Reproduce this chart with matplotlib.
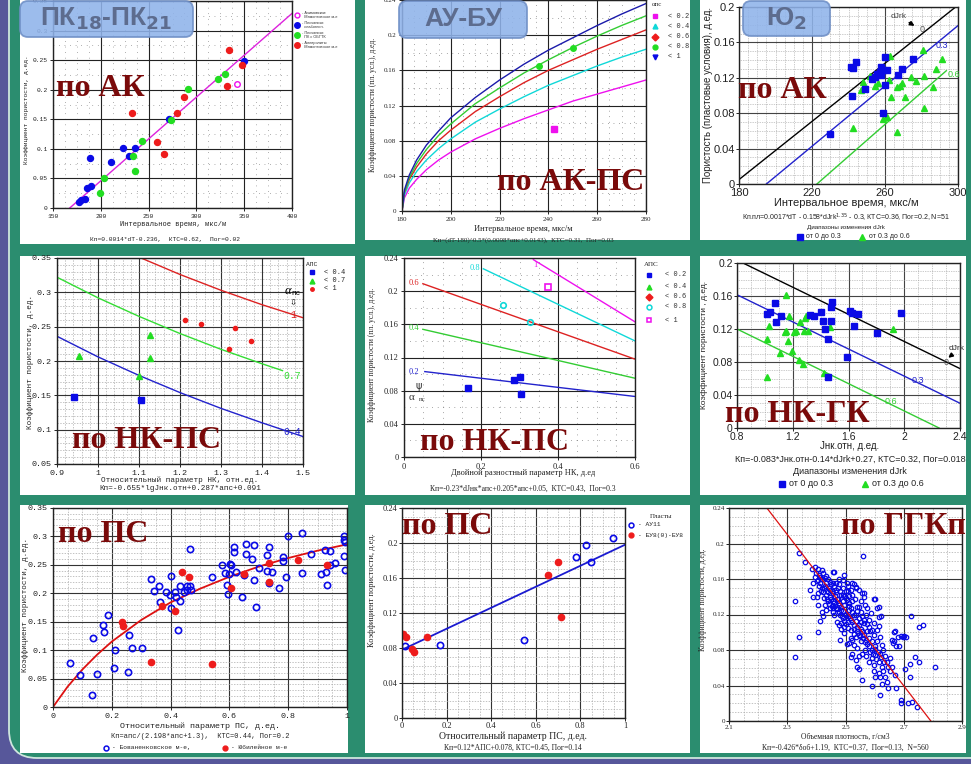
import numpy as np
import matplotlib.pyplot as plt
from matplotlib.patches import FancyBboxPatch, Rectangle

W, H = 971, 764
SERIF, MONO, SANS = 'Liberation Serif', 'Liberation Mono', 'Liberation Sans'
TEAL, PURPLE = '#2b8d6f', '#57579a'
TITLE_RED = '#7a0a0a'
BLUE, GREEN, RED, MAG, CYAN = '#0a0ae6', '#22dd22', '#ee1c1c', '#ee10ee', '#10d8d8'

# ---------- ПК18-ПК21, по АК ----------
a_blue_dt = [176.9, 179.7, 183.2, 185.7, 190.2, 189.2, 210.5, 223.4, 229.7, 235.7, 271.7, 350.3]
a_blue_kp = [0.010, 0.014, 0.016, 0.033, 0.038, 0.085, 0.077, 0.101, 0.088, 0.101, 0.151, 0.249]
a_green_dt = [199.0, 203.5, 233.2, 235.7, 243.4, 273.4, 291.6, 323.0, 330.0]
a_green_kp = [0.025, 0.051, 0.088, 0.062, 0.114, 0.149, 0.202, 0.218, 0.226]
a_red_dt = [232.9, 259.1, 266.1, 279.4, 287.4, 334.6, 332.5, 347.6]
a_red_kp = [0.161, 0.111, 0.092, 0.161, 0.187, 0.267, 0.206, 0.242]
a_mag_dt = [342.9]
a_mag_kp = [0.210]
a_fit_dt = [167.5, 400.0]
a_fit_kp = [0.0, 0.329]
a_legend = ['- Ачимовские\n  Мамонтовское м-е', '- Песчаники\n  слабоглин.', '- Песчаники\n  ПК с ОБГТК',
            '- Алевролиты\n  Мамонтовское м-е']

# ---------- АУ-БУ, по АК-ПС ----------
b_dt = [180, 181, 183, 186, 190, 195, 200, 210, 220, 230, 240, 250, 260, 270, 280]
b_curve_10 = [0, 0.024, 0.041, 0.058, 0.075, 0.091, 0.106, 0.129, 0.149, 0.167, 0.183, 0.197, 0.211, 0.224, 0.236]
b_curve_08 = [0, 0.022, 0.038, 0.054, 0.070, 0.086, 0.099, 0.122, 0.140, 0.157, 0.172, 0.186, 0.199, 0.211, 0.222]
b_curve_06 = [0, 0.021, 0.036, 0.050, 0.065, 0.080, 0.092, 0.113, 0.130, 0.146, 0.160, 0.172, 0.184, 0.195, 0.206]
b_curve_04 = [0, 0.018, 0.032, 0.045, 0.058, 0.071, 0.082, 0.101, 0.116, 0.130, 0.143, 0.154, 0.165, 0.175, 0.184]
b_curve_02 = [0, 0.015, 0.026, 0.036, 0.047, 0.058, 0.067, 0.082, 0.094, 0.105, 0.115, 0.125, 0.133, 0.141, 0.149]
b_green_dt = [236.1, 250.1]
b_green_kp = [0.165, 0.185]
b_mag_dt = [242.2]
b_mag_kp = [0.093]
b_legend = ['< 0.2', '< 0.4', '< 0.6', '< 0.8', '< 1']

# ---------- Ю2, по АК ----------
c_line0 = ([180, 298.7], [0.005, 0.200])
c_line03 = ([195, 300], [0.0, 0.179])
c_line06 = ([222.7, 293.6], [0.0, 0.128])
c_blue_dt = [241.2, 242.5, 243.9, 248.9, 242.1, 230.0, 253.1, 254.5, 255.8, 257.1, 258.0, 258.9, 259.8,
             257.6, 259.8, 261.1, 267.1, 269.3, 275.3, 258.9]
c_blue_kp = [0.1325, 0.1306, 0.1373, 0.1073, 0.0998, 0.0567, 0.1182, 0.1205, 0.1242, 0.1268, 0.1325, 0.1287,
             0.1437, 0.1231, 0.1118, 0.1287, 0.1231, 0.1295, 0.1418, 0.0799]
c_green_dt = [262.9, 248.1, 252.0, 254.3, 256.3, 262.2, 263.1, 266.6, 268.4, 269.1, 271.0, 274.1, 276.8,
              280.8, 281.2, 281.2, 286.3, 287.8, 291.1, 242.5, 258.9, 261.1, 266.8, 246.7]
c_green_kp = [0.1445, 0.1148, 0.1220, 0.1111, 0.1144, 0.1174, 0.0987, 0.1092, 0.1107, 0.1137, 0.0987, 0.1205,
              0.1167, 0.1512, 0.1220, 0.0856, 0.1092, 0.1298, 0.1418, 0.0630, 0.0732, 0.0754, 0.0585, 0.1062]

# ---------- по НК-ПС (АПС) ----------
d_j04 = [0.9, 1.0, 1.1, 1.2, 1.3, 1.4, 1.5]
d_kp04 = [0.236, 0.206, 0.179, 0.154, 0.131, 0.110, 0.090]
d_j07 = [0.9, 1.0, 1.1, 1.2, 1.3, 1.4, 1.45]
d_kp07 = [0.322, 0.292, 0.265, 0.240, 0.217, 0.196, 0.186]
d_j1 = [1.105, 1.2, 1.3, 1.4, 1.5]
d_kp1 = [0.350, 0.326, 0.303, 0.282, 0.263]
d_blue_j = [0.941, 1.104]
d_blue_kp = [0.148, 0.143]
d_green_j = [0.954, 1.099, 1.128, 1.128]
d_green_kp = [0.208, 0.178, 0.238, 0.204]
d_red_j = [1.213, 1.252, 1.335, 1.319, 1.372]
d_red_kp = [0.259, 0.254, 0.248, 0.218, 0.229]
d_legend = ['< 0.4', '< 0.7', '< 1']

# ---------- по НК-ПС (двойной разностный параметр) ----------
e_line02 = ([0.054, 0.6], [0.103, 0.073])
e_line04 = ([0.049, 0.6], [0.154, 0.095])
e_line06 = ([0.049, 0.6], [0.209, 0.118])
e_line08 = ([0.206, 0.6], [0.227, 0.140])
e_line10 = ([0.336, 0.6], [0.238, 0.163])
e_blue_x = [0.165, 0.285, 0.301, 0.304]
e_blue_kp = [0.083, 0.093, 0.096, 0.076]
e_cyan_x = [0.256, 0.327]
e_cyan_kp = [0.183, 0.163]
e_mag_x = [0.375]
e_mag_kp = [0.205]
e_legend = ['< 0.2', '< 0.4', '< 0.6', '< 0.8', '< 1']

# ---------- по НК-ГК ----------
f_line0 = ([0.855, 2.4], [0.199, 0.072])
f_line03 = ([0.8, 2.4], [0.1615, 0.030])
f_line06 = ([0.8, 2.25], [0.120, 0.0])
f_blue_j = [1.016, 1.040, 1.071, 1.078, 1.119, 1.322, 1.351, 1.406, 1.418, 1.430, 1.454, 1.478, 1.473,
            1.485, 1.586, 1.610, 1.622, 1.638, 1.670, 1.801, 1.974, 1.454]
f_blue_kp = [0.138, 0.141, 0.152, 0.129, 0.136, 0.137, 0.136, 0.141, 0.130, 0.120, 0.108, 0.147, 0.130,
             0.153, 0.086, 0.142, 0.139, 0.124, 0.138, 0.115, 0.140, 0.062]
f_green_j = [1.150, 1.030, 1.016, 1.016, 1.107, 1.174, 1.143, 1.155, 1.167, 1.207, 1.222, 1.198, 1.250,
             1.286, 1.298, 1.279, 1.310, 1.246, 1.274, 1.466, 1.423, 1.916]
f_green_kp = [0.161, 0.124, 0.108, 0.062, 0.091, 0.136, 0.116, 0.118, 0.106, 0.116, 0.117, 0.093, 0.129,
              0.133, 0.136, 0.117, 0.117, 0.082, 0.078, 0.122, 0.067, 0.120]

# ---------- по ПС (Бованенковское / Юбилейное) ----------
g_fit_a = [0, 0.05, 0.1, 0.15, 0.2, 0.3, 0.4, 0.5, 0.6, 0.7, 0.8, 0.9, 1.0]
g_fit_kp = [0, 0.036, 0.066, 0.092, 0.115, 0.153, 0.184, 0.208, 0.229, 0.247, 0.262, 0.275, 0.286]
g_bov = [(0.057, 0.078), (0.091, 0.056), (0.134, 0.021), (0.150, 0.058), (0.136, 0.121), (0.170, 0.145),
         (0.173, 0.132), (0.188, 0.161), (0.210, 0.100), (0.207, 0.068), (0.256, 0.061), (0.259, 0.126),
         (0.270, 0.103), (0.303, 0.103), (0.332, 0.226), (0.343, 0.204), (0.361, 0.213), (0.364, 0.185),
         (0.386, 0.203), (0.398, 0.197), (0.400, 0.175), (0.403, 0.231), (0.415, 0.203), (0.418, 0.194),
         (0.426, 0.135), (0.432, 0.186), (0.432, 0.212), (0.445, 0.203), (0.455, 0.212), (0.457, 0.206),
         (0.466, 0.278), (0.466, 0.212), (0.468, 0.206), (0.540, 0.228), (0.575, 0.250), (0.585, 0.235),
         (0.597, 0.234), (0.591, 0.214), (0.595, 0.198), (0.602, 0.251), (0.606, 0.250), (0.614, 0.282),
         (0.614, 0.272), (0.623, 0.237), (0.642, 0.194), (0.650, 0.232), (0.656, 0.286), (0.656, 0.269),
         (0.677, 0.260), (0.682, 0.285), (0.684, 0.224), (0.690, 0.176), (0.699, 0.245), (0.727, 0.268),
         (0.727, 0.239), (0.735, 0.281), (0.736, 0.218), (0.744, 0.237), (0.769, 0.209), (0.782, 0.257),
         (0.784, 0.264), (0.793, 0.229), (0.801, 0.300), (0.847, 0.306), (0.847, 0.235), (0.877, 0.269),
         (0.911, 0.234), (0.926, 0.276), (0.928, 0.237), (0.931, 0.215), (0.943, 0.250), (0.943, 0.275),
         (0.960, 0.253), (0.989, 0.300), (0.989, 0.294), (0.989, 0.265), (0.992, 0.241), (0.994, 0.290)]
g_jub = [(0.236, 0.150), (0.239, 0.143), (0.335, 0.079), (0.372, 0.178), (0.415, 0.168), (0.440, 0.238),
         (0.464, 0.229), (0.541, 0.075), (0.605, 0.209), (0.651, 0.234), (0.734, 0.253), (0.736, 0.219),
         (0.832, 0.259), (0.932, 0.249)]

# ---------- по ПС (пласты АУ11, БУ8) ----------
h_fit_a = [0.0, 1.0]
h_fit_kp = [0.078, 0.198]
h_au_a = [0.015, 0.172, 0.545, 0.781, 0.824, 0.846, 0.948]
h_au_kp = [0.082, 0.084, 0.089, 0.184, 0.198, 0.178, 0.206]
h_bu_a = [0.003, 0.019, 0.045, 0.052, 0.112, 0.654, 0.701, 0.713]
h_bu_kp = [0.096, 0.093, 0.079, 0.076, 0.093, 0.164, 0.178, 0.115]

# ---------- по ГГКп ----------
i_fit_rho = [2.23, 2.793]
i_fit_kp = [0.240, 0.0]
i_pts = [(2.341, 0.189), (2.362, 0.179), (2.560, 0.186), (2.384, 0.171), (2.328, 0.135), (2.339, 0.095),
         (2.326, 0.072), (2.461, 0.168), (2.807, 0.061), (2.726, 0.118), (2.754, 0.106), (2.767, 0.108),
         (2.701, 0.096), (2.692, 0.024), (2.714, 0.020), (2.728, 0.021), (2.746, 0.016), (2.689, 0.020),
         (2.619, 0.029), (2.645, 0.037), (2.675, 0.037), (2.703, 0.059), (2.722, 0.064), (2.739, 0.072),
         (2.754, 0.066), (2.723, 0.050), (2.591, 0.040), (2.555, 0.046), (2.541, 0.061), (2.546, 0.059),
         (2.412, 0.113), (2.406, 0.100), (2.481, 0.091), (2.496, 0.099), (2.504, 0.087), (2.665, 0.100),
         (2.668, 0.090), (2.683, 0.084), (2.664, 0.088), (2.692, 0.096), (2.708, 0.095), (2.623, 0.118),
         (2.614, 0.128), (2.603, 0.138), (2.562, 0.144), (2.536, 0.151), (2.522, 0.155),
         (2.395, 0.174), (2.406, 0.171), (2.418, 0.170), (2.423, 0.167), (2.399, 0.167), (2.410, 0.165),
         (2.390, 0.156), (2.406, 0.159), (2.414, 0.156), (2.429, 0.161), (2.440, 0.160), (2.446, 0.157),
         (2.457, 0.168), (2.479, 0.160), (2.434, 0.156), (2.451, 0.154), (2.462, 0.152), (2.429, 0.152),
         (2.418, 0.150), (2.406, 0.144), (2.401, 0.140), (2.423, 0.145), (2.434, 0.142), (2.446, 0.148),
         (2.457, 0.144), (2.468, 0.148), (2.479, 0.154), (2.490, 0.150), (2.504, 0.156), (2.507, 0.146),
         (2.485, 0.142), (2.474, 0.137), (2.462, 0.133), (2.451, 0.137), (2.440, 0.135), (2.429, 0.131),
         (2.446, 0.127), (2.457, 0.123), (2.468, 0.127), (2.479, 0.131), (2.490, 0.135), (2.502, 0.139),
         (2.513, 0.133), (2.524, 0.142), (2.535, 0.150), (2.533, 0.137), (2.541, 0.129), (2.558, 0.144),
         (2.567, 0.131), (2.574, 0.127), (2.597, 0.137), (2.608, 0.127), (2.614, 0.117), (2.586, 0.122),
         (2.569, 0.120), (2.552, 0.123), (2.546, 0.116), (2.535, 0.120), (2.524, 0.123), (2.513, 0.125),
         (2.502, 0.120), (2.490, 0.116), (2.479, 0.123), (2.485, 0.110), (2.496, 0.106), (2.507, 0.112),
         (2.518, 0.114), (2.530, 0.108), (2.541, 0.106), (2.552, 0.112), (2.563, 0.110), (2.580, 0.114),
         (2.591, 0.103), (2.574, 0.101), (2.558, 0.101), (2.546, 0.097), (2.535, 0.095), (2.524, 0.091),
         (2.513, 0.088), (2.530, 0.086), (2.541, 0.082), (2.552, 0.090), (2.569, 0.091), (2.580, 0.093),
         (2.597, 0.097), (2.608, 0.090), (2.602, 0.084), (2.591, 0.080), (2.580, 0.084), (2.567, 0.080),
         (2.558, 0.076), (2.546, 0.073), (2.524, 0.076), (2.518, 0.072), (2.535, 0.069), (2.569, 0.073),
         (2.591, 0.071), (2.602, 0.074), (2.619, 0.076), (2.630, 0.080), (2.636, 0.073), (2.614, 0.067),
         (2.597, 0.063), (2.580, 0.067), (2.625, 0.061), (2.642, 0.067), (2.653, 0.071), (2.647, 0.061),
         (2.630, 0.056), (2.614, 0.054), (2.602, 0.050), (2.597, 0.056), (2.619, 0.050), (2.636, 0.050),
         (2.653, 0.056), (2.658, 0.061), (2.670, 0.052), (2.642, 0.044), (2.625, 0.042), (2.675, 0.084),
         (2.658, 0.091), (2.681, 0.095), (2.698, 0.095), (2.670, 0.101), (2.625, 0.086), (2.619, 0.095),
         (2.608, 0.103), (2.597, 0.110), (2.614, 0.107), (2.580, 0.106), (2.457, 0.156), (2.468, 0.156),
         (2.490, 0.159), (2.496, 0.164), (2.507, 0.152), (2.518, 0.148), (2.530, 0.154), (2.546, 0.148),
         (2.563, 0.140), (2.552, 0.135), (2.496, 0.131), (2.485, 0.125), (2.434, 0.125), (2.418, 0.123),
         (2.406, 0.131), (2.390, 0.140), (2.378, 0.148), (2.423, 0.118),
         (2.420, 0.160), (2.432, 0.163), (2.444, 0.150), (2.452, 0.146), (2.463, 0.141), (2.470, 0.138),
         (2.476, 0.133), (2.483, 0.128), (2.492, 0.124), (2.500, 0.121), (2.508, 0.118), (2.516, 0.116),
         (2.522, 0.112), (2.530, 0.104), (2.538, 0.101), (2.544, 0.099), (2.550, 0.096), (2.560, 0.094),
         (2.566, 0.089), (2.575, 0.087), (2.584, 0.078), (2.594, 0.076), (2.604, 0.070), (2.440, 0.145),
         (2.448, 0.140), (2.456, 0.135), (2.465, 0.130), (2.472, 0.126), (2.480, 0.120), (2.488, 0.118),
         (2.494, 0.113), (2.503, 0.109), (2.510, 0.105), (2.518, 0.103), (2.425, 0.150), (2.436, 0.147),
         (2.444, 0.132), (2.452, 0.130), (2.461, 0.120), (2.470, 0.112), (2.478, 0.108), (2.486, 0.104),
         (2.495, 0.141), (2.505, 0.136), (2.512, 0.130), (2.520, 0.127), (2.528, 0.120), (2.536, 0.113),
         (2.545, 0.108), (2.553, 0.104), (2.415, 0.146), (2.408, 0.152), (2.402, 0.158), (2.395, 0.162),
         (2.412, 0.162), (2.425, 0.139), (2.438, 0.137), (2.458, 0.127), (2.466, 0.145), (2.474, 0.150),
         (2.482, 0.146), (2.492, 0.142), (2.500, 0.147), (2.512, 0.141), (2.523, 0.135), (2.540, 0.124),
         (2.548, 0.128), (2.556, 0.118), (2.565, 0.114), (2.575, 0.109), (2.585, 0.101), (2.592, 0.090),
         (2.600, 0.081), (2.610, 0.078), (2.622, 0.072), (2.632, 0.066), (2.565, 0.097), (2.528, 0.098),
         (2.520, 0.094)]


def rect(l, t, r, b):
    return [l / W, 1 - b / H, (r - l) / W, (b - t) / H]


def ticks(start, stop, step):
    return np.round(np.arange(start, stop + step / 2, step), 4)


def setup(ax, xlim, ylim, xmaj, ymaj, xmin, ymin, fam, fs,
          minor_ls=(0, (2, 2)), minor_c='#aaaaaa', major_c='#333333', pad=2):
    ax.set_xlim(*xlim)
    ax.set_ylim(*ylim)
    ax.set_xticks(xmaj)
    ax.set_yticks(ymaj)
    ax.set_xticks(xmin, minor=True)
    ax.set_yticks(ymin, minor=True)
    ax.set_xticklabels(['%g' % v for v in xmaj], family=fam, fontsize=fs, color='#222222')
    ax.set_yticklabels(['%g' % v for v in ymaj], family=fam, fontsize=fs, color='#222222')
    ax.grid(True, which='major', color=major_c, lw=0.8)
    ax.grid(True, which='minor', color=minor_c, lw=0.5, ls=minor_ls)
    ax.tick_params(which='minor', length=0)
    ax.tick_params(which='major', length=2, width=0.6, pad=pad)
    ax.set_axisbelow(True)
    for s in ax.spines.values():
        s.set_linewidth(1.0)
        s.set_color('#222222')


fig = plt.figure(figsize=(W / 100, H / 100), dpi=100)
fig.patch.set_facecolor(PURPLE)

# background frame and white cards
bg = fig.add_axes([0, 0, 1, 1], zorder=0)
bg.set_xlim(0, W)
bg.set_ylim(H, 0)
bg.axis('off')
bg.add_patch(FancyBboxPatch((9, -60), W + 60, 818, boxstyle='round,pad=0,rounding_size=28',
                            fc=TEAL, ec='#cfe6de', lw=1.3))
for l, t, r, b in [(20, 0, 355, 244), (365, 0, 690, 240), (700, 0, 966, 240),
                   (20, 256, 355, 495), (365, 256, 690, 495), (700, 256, 966, 495),
                   (20, 505, 348, 753), (365, 505, 690, 753), (700, 505, 966, 753)]:
    bg.add_patch(Rectangle((l, t), r - l, b - t, fc='white', ec='none'))

# ---- panel A ----
ax = fig.add_axes(rect(53, 1, 292, 208), zorder=1)
setup(ax, (150, 400), (0, 0.35), ticks(150, 400, 50), ticks(0, 0.35, 0.05),
      ticks(150, 400, 12.5), ticks(0, 0.35, 0.025), MONO, 4.5, minor_ls=(0, (1, 7)), minor_c='#666666',
      major_c='#222222')
ax.plot(a_fit_dt, a_fit_kp, color='#dd22dd', lw=1.0)
ax.plot(a_blue_dt, a_blue_kp, 'o', color=BLUE, ms=4.3)
ax.plot(a_green_dt, a_green_kp, 'o', color=GREEN, ms=4.3)
ax.plot(a_red_dt, a_red_kp, 'o', color=RED, ms=4.3)
ax.plot(a_mag_dt, a_mag_kp, 'o', mfc='none', mec=MAG, ms=4, mew=1)

# ---- panel B ----
ax = fig.add_axes(rect(402, 0, 646, 211), zorder=1)
setup(ax, (180, 280), (0, 0.24), ticks(180, 280, 20), ticks(0, 0.24, 0.04),
      ticks(180, 280, 5), ticks(0, 0.24, 0.02), SERIF, 5, minor_ls=(0, (1, 7)), minor_c='#555555',
      major_c='#222222')
for vals, col in [(b_curve_02, MAG), (b_curve_04, CYAN), (b_curve_06, '#dd2222'),
                  (b_curve_08, '#33cc33'), (b_curve_10, '#1a1aaa')]:
    ax.plot(b_dt, vals, color=col, lw=1.0)
ax.plot(b_green_dt, b_green_kp, 'o', color=GREEN, ms=4)
ax.plot(b_mag_dt, b_mag_kp, 's', color=MAG, ms=4)

# ---- panel C ----
ax = fig.add_axes(rect(739, 7, 958, 184), zorder=1)
setup(ax, (180, 300), (0, 0.2), ticks(180, 300, 40), ticks(0, 0.2, 0.04),
      ticks(180, 300, 5), ticks(0, 0.2, 0.01), SANS, 8, minor_ls=(0, (1, 1.5)), minor_c='#999999',
      major_c='#444444', pad=1)
ax.plot(*c_line0, color='black', lw=1.0)
ax.plot(*c_line03, color='#2222cc', lw=1.0)
ax.plot(*c_line06, color='#33cc33', lw=1.0)
ax.plot(c_green_dt, c_green_kp, '^', color=GREEN, ms=4.5)
ax.plot(c_blue_dt, c_blue_kp, 's', color=BLUE, ms=4.5)
ax.text(279, 0.172, '0', fontsize=6.5, family=SANS, color='#555555')
ax.text(287.5, 0.154, '0.3', fontsize=6.5, family=SANS, color='#2222cc')
ax.text(294.5, 0.121, '0.6', fontsize=6.5, family=SANS, color='#33cc33')
ax.text(263, 0.188, 'dJrk', fontsize=6, family=SANS, color='#444444')
ax.annotate('', xy=(277.5, 0.177), xytext=(272, 0.184),
            arrowprops=dict(arrowstyle='-|>', color='black', lw=1.2, mutation_scale=6))

# ---- panel D ----
ax = fig.add_axes(rect(57, 258, 303, 464), zorder=1)
setup(ax, (0.9, 1.5), (0.05, 0.35), ticks(0.9, 1.5, 0.1), ticks(0.05, 0.35, 0.05),
      ticks(0.9, 1.5, 0.02), ticks(0.05, 0.35, 0.01), MONO, 6)
ax.plot(d_j04, d_kp04, color='#2222cc', lw=1.0)
ax.plot(d_j07, d_kp07, color='#33dd33', lw=1.0)
ax.plot(d_j1, d_kp1, color='#dd2222', lw=1.0)
ax.plot(d_blue_j, d_blue_kp, 's', color=BLUE, ms=4)
ax.plot(d_green_j, d_green_kp, '^', color=GREEN, ms=4)
ax.plot(d_red_j, d_red_kp, 'o', color=RED, ms=3)
ax.text(1.468, 0.267, '1', fontsize=7, family=MONO, color='#dd2222', va='center')
ax.text(1.452, 0.178, '0.7', fontsize=7, family=MONO, color='#33dd33', va='center')
ax.text(1.452, 0.096, '0.4', fontsize=7, family=MONO, color='#2222cc', va='center')
ax.text(1.455, 0.302, 'α', fontsize=9, family=SERIF, style='italic', va='center')
ax.text(1.472, 0.298, 'пс', fontsize=5.5, family=MONO, va='center')
ax.text(1.466, 0.284, '⇩', fontsize=6, family='DejaVu Sans', va='center')

# ---- panel E ----
ax = fig.add_axes(rect(404, 258, 635, 457), zorder=1)
setup(ax, (0, 0.6), (0, 0.24), ticks(0, 0.6, 0.2), ticks(0, 0.24, 0.04),
      ticks(0, 0.6, 0.05), ticks(0, 0.24, 0.02), SERIF, 6, minor_ls=(0, (1, 7)), minor_c='#555555',
      major_c='#222222')
for (xs, ys), col in [(e_line02, '#2222cc'), (e_line04, '#33cc33'), (e_line06, '#dd2222'),
                      (e_line08, CYAN), (e_line10, MAG)]:
    ax.plot(xs, ys, color=col, lw=1.0)
ax.plot(e_blue_x, e_blue_kp, 's', color=BLUE, ms=4.5)
ax.plot(e_cyan_x, e_cyan_kp, 'o', mfc='none', mec=CYAN, ms=4, mew=1.2)
ax.plot(e_mag_x, e_mag_kp, 's', mfc='none', mec=MAG, ms=4.5, mew=1.2)
for x, y, s, col in [(0.012, 0.103, '0.2', '#2222cc'), (0.012, 0.155, '0.4', '#33cc33'),
                     (0.012, 0.210, '0.6', '#dd2222'), (0.17, 0.228, '0.8', CYAN),
                     (0.335, 0.231, '1', MAG)]:
    ax.text(x, y, s, fontsize=6, family=SERIF, color=col, va='center')
ax.text(0.03, 0.086, 'ψ', fontsize=7, family='DejaVu Sans', color='#333333', va='center')
ax.text(0.012, 0.072, 'α', fontsize=8, family=SERIF, color='#333333', va='center')
ax.text(0.038, 0.069, 'пс', fontsize=5, family=SERIF, color='#333333', va='center')

# ---- panel F ----
ax = fig.add_axes(rect(737, 263, 960, 428), zorder=1)
setup(ax, (0.8, 2.4), (0, 0.2), ticks(0.8, 2.4, 0.4), ticks(0, 0.2, 0.04),
      ticks(0.8, 2.4, 0.1), ticks(0, 0.2, 0.01), SANS, 7.5, minor_ls=(0, (1, 1.5)), minor_c='#999999',
      major_c='#444444', pad=1)
ax.plot(*f_line0, color='black', lw=1.0)
ax.plot(*f_line03, color='#2222cc', lw=1.0)
ax.plot(*f_line06, color='#33cc33', lw=1.0)
ax.plot(f_green_j, f_green_kp, '^', color=GREEN, ms=4)
ax.plot(f_blue_j, f_blue_kp, 's', color=BLUE, ms=4.5)
ax.text(2.28, 0.076, '0', fontsize=6.5, family=SANS, color='#555555')
ax.text(2.05, 0.054, '0.3', fontsize=6.5, family=SANS, color='#2222cc')
ax.text(1.86, 0.029, '0.6', fontsize=6.5, family=SANS, color='#33cc33')
ax.text(2.32, 0.094, 'dJrk', fontsize=6, family=SANS, color='#333333')
ax.annotate('', xy=(2.3, 0.083), xytext=(2.36, 0.091),
            arrowprops=dict(arrowstyle='-|>', color='black', lw=1.2, mutation_scale=6))

# ---- panel G ----
ax = fig.add_axes(rect(53, 508, 347, 707), zorder=1)
setup(ax, (0, 1), (0, 0.35), ticks(0, 1, 0.2), ticks(0, 0.35, 0.05),
      ticks(0, 1, 0.05), ticks(0, 0.35, 0.01), MONO, 6)
g_bov_a, g_bov_kp = np.array(g_bov).T
g_jub_a, g_jub_kp = np.array(g_jub).T
ax.plot(g_fit_a, g_fit_kp, color='#dd1111', lw=1.3)
ax.plot(g_bov_a, g_bov_kp, 'o', mfc='none', mec=BLUE, ms=4.5, mew=1.2)
ax.plot(g_jub_a, g_jub_kp, 'o', color=RED, ms=4.5)

# ---- panel H ----
ax = fig.add_axes(rect(402, 508, 625, 718), zorder=1)
setup(ax, (0, 1), (0, 0.24), ticks(0, 1, 0.2), ticks(0, 0.24, 0.04),
      ticks(0, 1, 0.05), ticks(0, 0.24, 0.01), SERIF, 6, pad=1)
ax.plot(h_fit_a, h_fit_kp, color='#1a1ad0', lw=1.3)
ax.plot(h_au_a, h_au_kp, 'o', mfc='none', mec=BLUE, ms=4.5, mew=1.2)
ax.plot(h_bu_a, h_bu_kp, 'o', color=RED, ms=4.5)

# ---- panel I ----
ax = fig.add_axes(rect(729, 508, 962, 721), zorder=1)
setup(ax, (2.1, 2.9), (0, 0.24), ticks(2.1, 2.9, 0.2), ticks(0, 0.24, 0.04),
      ticks(2.1, 2.9, 0.05), ticks(0, 0.24, 0.01), SERIF, 5, pad=1)
i_rho, i_kp = np.array(i_pts).T
ax.plot(i_rho, i_kp, 'o', mfc='none', mec=BLUE, ms=3.2, mew=0.9)
ax.plot(i_fit_rho, i_fit_kp, color='#dd1111', lw=0.9)

# ---------- overlay: titles, badges, captions, legends ----------
top = fig.add_axes([0, 0, 1, 1], zorder=5)
top.set_xlim(0, W)
top.set_ylim(H, 0)
top.axis('off')
top.patch.set_alpha(0)

for x, y, s in [(100, 88, 'по АК'), (571, 182, 'по АК-ПС'), (782, 90, 'по АК'),
                (146, 440, 'по НК-ПС'), (494, 442, 'по НК-ПС'), (797, 414, 'по НК-ГК'),
                (103, 534, 'по ПС'), (447, 527, 'по ПС'), (903, 527, 'по ГГКп')]:
    top.text(x, y, s, ha='center', va='center', fontsize=23, fontweight='bold',
             family=SERIF, color=TITLE_RED)

for (x0, w, h), label in [((20, 173, 36), 'ПК$_{\\mathbf{18}}$-ПК$_{\\mathbf{21}}$'),
                          ((399, 128, 37), 'АУ-БУ'), ((743, 87, 35), 'Ю$_{\\mathbf{2}}$')]:
    top.add_patch(FancyBboxPatch((x0, 1), w, h, boxstyle='round,pad=0,rounding_size=8',
                                 fc='#8fb3ea', ec='#6f8fc6', lw=1.3, alpha=0.88))
    top.text(x0 + w / 2, 1 + h / 2, label, ha='center', va='center', fontsize=19,
             fontweight='bold', family=SANS, color='#5d6c8e')

cap = dict(ha='center', va='center', color='#222222')
# panel A captions and legend
top.text(27, 110, 'Коэффициент пористости, д.ед.', rotation=90, fontsize=4.5, family=MONO, **cap)
top.text(173, 224, 'Интервальное время, мкс/м', fontsize=5, family=MONO, **cap)
top.text(165, 240, 'Кп=0.0014*dT-0.236,  КТС=0.62,  Пог=0.02', fontsize=4.5, family=MONO, **cap)
for y, col, s in zip([15, 25, 35, 45], [MAG, BLUE, GREEN, RED], a_legend):
    if col == MAG:
        top.plot(297, y, 'o', mfc='none', mec=col, ms=3.5, mew=1)
    else:
        top.plot(297, y, 'o', color=col, ms=4)
    top.text(302, y, s, fontsize=2.8, family=SANS, va='center', color='#333333', linespacing=1.0)

# panel B captions and legend
top.text(373, 105, 'Коэффициент пористости (пл. усл.), д.ед.', rotation=90, fontsize=5.5, family=SERIF, **cap)
top.text(523, 229, 'Интервальное время, мкс/м', fontsize=6, family=SERIF, **cap)
top.text(523, 240, 'Кп=(dT-180)^0.5*(0.0098*αпс+0.0143),  КТС=0.31,  Пог=0.03', fontsize=5,
         family=SERIF, **cap)
top.text(652, 4, 'αпс', fontsize=5, family=SERIF, va='center', color='#333333')
for y, (m, col), s in zip([16, 26, 36.5, 46.5, 57], [('s', MAG), ('^', CYAN), ('D', RED), ('o', GREEN),
                                                     ('v', BLUE)], b_legend):
    top.plot(655, y, m, color=col, ms=3.5)
    top.text(668, y, s, fontsize=5, family=MONO, va='center', color='#333333')

# panel C captions and legend
top.text(708, 95, 'Пористость (пластовые условия), д.ед.', rotation=90, fontsize=7, family=SANS, **cap)
top.text(846, 203, 'Интервальное время, мкс/м', fontsize=8, family=SANS, **cap)
top.text(846, 218, 'Кп.пл=0.0017*dT - 0.158*dJrk$^{1.35}$ - 0.3, КТС=0.36, Пог=0.2, N=51', fontsize=5,
         family=SANS, **cap)
top.text(846, 228, 'Диапазоны изменения dJrk', fontsize=4.5, family=SANS, **cap)
top.plot(800, 236.5, 's', color=BLUE, ms=4)
top.text(806, 236.5, 'от 0 до 0.3', fontsize=5, family=SANS, va='center', color='#222222')
top.plot(862, 236.5, '^', color=GREEN, ms=4)
top.text(869, 236.5, 'от 0.3 до 0.6', fontsize=5, family=SANS, va='center', color='#222222')

# panel D captions and legend
top.text(30, 362, 'Коэффициент пористости, д.ед.', rotation=90, fontsize=5.5, family=MONO, **cap)
top.text(180, 480, 'Относительный параметр НК, отн.ед.', fontsize=5.5, family=MONO, **cap)
top.text(180, 489, 'Кп=-0.655*lgJнк.отн+0.287*aпс+0.091', fontsize=5.5, family=MONO, **cap)
top.text(306, 264, 'АПС', fontsize=4.5, family=MONO, va='center', color='#222222')
for y, (m, col, ms), s in zip([272, 281, 289], [('s', BLUE, 3.5), ('^', GREEN, 3.5), ('o', RED, 2.5)],
                              d_legend):
    top.plot(312, y, m, color=col, ms=ms)
    top.text(324, y, s, fontsize=5, family=MONO, va='center', color='#222222')

# panel E captions and legend
top.text(372, 355, 'Коэффициент пористости (пл. усл.), д.ед.', rotation=90, fontsize=5.5, family=SERIF, **cap)
top.text(523, 473, 'Двойной разностный параметр НК, д.ед', fontsize=6, family=SERIF, **cap)
top.text(523, 489, 'Кп=-0.23*dJнк*апс+0.205*апс+0.05,  КТС=0.43,  Пог=0.3', fontsize=5.5,
         family=SERIF, **cap)
top.text(644, 264, 'АПС', fontsize=5, family=SERIF, va='center', color='#222222')
for y, (m, col, fill), s in zip([275, 287, 297, 307, 320],
                                [('s', BLUE, True), ('^', GREEN, True), ('D', RED, True),
                                 ('o', CYAN, False), ('s', MAG, False)], e_legend):
    if fill:
        top.plot(649, y, m, color=col, ms=3.5)
    else:
        top.plot(649, y, m, mfc='none', mec=col, ms=3.5, mew=1.1)
    top.text(665, y, s, fontsize=5, family=MONO, va='center', color='#333333')

# panel F captions and legend
top.text(705, 345, 'Коэффициент пористости , д.ед.', rotation=90, fontsize=6, family=SANS, **cap)
top.text(850, 446, 'Jнк.отн, д.ед.', fontsize=7, family=SANS, **cap)
top.text(850, 459, 'Кп=-0.083*Jнк.отн-0.14*dJrk+0.27, КТС=0.32, Пог=0.018', fontsize=6.5,
         family=SANS, **cap)
top.text(850, 472, 'Диапазоны изменения dJrk', fontsize=6.5, family=SANS, **cap)
top.plot(782, 483.5, 's', color=BLUE, ms=4)
top.text(789, 483.5, 'от 0 до 0.3', fontsize=6.5, family=SANS, va='center', color='#222222')
top.plot(865, 483.5, '^', color=GREEN, ms=4)
top.text(872, 483.5, 'от 0.3 до 0.6', fontsize=6.5, family=SANS, va='center', color='#222222')

# panel G captions and legend
top.text(26, 605, 'Коэффициент пористости, д.ед.', rotation=90, fontsize=5.5, family=MONO, **cap)
top.text(200, 726, 'Относительный параметр ПС, д.ед.', fontsize=6, family=MONO, **cap)
top.text(200, 737, 'Кп=апс/(2.198*апс+1.3),  КТС=0.44, Пог=0.2', fontsize=5, family=MONO, **cap)
top.plot(106, 747.5, 'o', mfc='none', mec=BLUE, ms=3.5, mew=1.1)
top.text(112, 747.5, '- Бованенковское м-е,', fontsize=4.5, family=MONO, va='center', color='#222222')
top.plot(225, 747.5, 'o', color=RED, ms=3.5)
top.text(231, 747.5, '- Юбилейное м-е', fontsize=4.5, family=MONO, va='center', color='#222222')

# panel H captions and legend
top.text(372, 590, 'Коэффициент пористости, д.ед.', rotation=90, fontsize=6, family=SERIF, **cap)
top.text(513, 736, 'Относительный параметр ПС, д.ед.', fontsize=7, family=SERIF, **cap)
top.text(513, 748, 'Кп=0.12*АПС+0.078, КТС=0.45, Пог=0.14', fontsize=5.5, family=SERIF, **cap)
top.text(650, 517, 'Пласты', fontsize=5, family=SERIF, va='center', color='#222222')
top.plot(631, 525, 'o', mfc='none', mec=BLUE, ms=3.5, mew=1.1)
top.text(638, 525, '- АУ11', fontsize=4.5, family=MONO, va='center', color='#222222')
top.plot(631, 535, 'o', color=RED, ms=3.5)
top.text(638, 535, '- БУ8(0)-БУ8', fontsize=4.5, family=MONO, va='center', color='#222222')

# panel I captions
top.text(703, 600, 'Коэффициент пористости, д.ед.', rotation=90, fontsize=5.5, family=SERIF, **cap)
top.text(845, 737, 'Объемная плотность, г/см3', fontsize=5.5, family=SERIF, **cap)
top.text(845, 748, 'Кп=-0.426*δоб+1.19,  КТС=0.37,  Пог=0.13,  N=560', fontsize=5.5, family=SERIF, **cap)

fig.savefig('out.png', dpi=100, facecolor=fig.get_facecolor())
